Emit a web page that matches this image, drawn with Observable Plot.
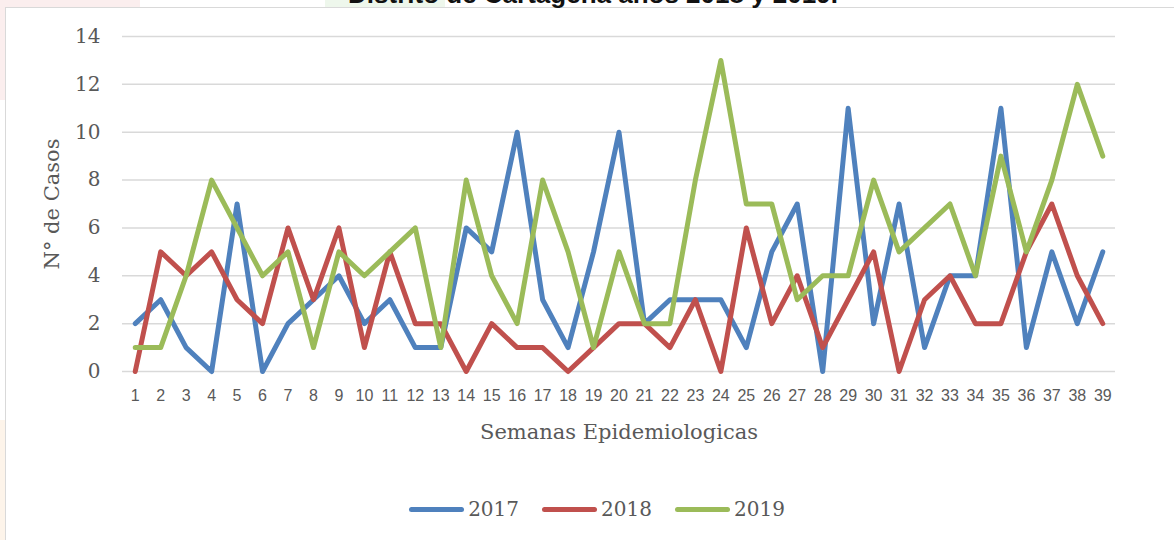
<!DOCTYPE html>
<html>
<head>
<meta charset="utf-8">
<script src="https://cdn.jsdelivr.net/npm/d3@7"></script>
<script src="https://cdn.jsdelivr.net/npm/@observablehq/plot@0.6"></script>
<style>
  html, body { margin: 0; padding: 0; background: #fff; }
  #wrap { position: relative; width: 1174px; height: 540px; overflow: hidden; background: #fff; }
  .bg { position: absolute; }
  #box { position: absolute; left: 5px; top: 7px; width: 1175px; height: 540px; border: 1.5px solid #d9d9d9; background: #fff; box-sizing: border-box; }
  #title { position: absolute; left: 0; width: 1174px; top: -21px; text-align: center; font: bold 26px "Liberation Sans", Arial, sans-serif; line-height: 30px; color: #111; padding-left: 12px; box-sizing: border-box; white-space: nowrap; }
  #chart { position: absolute; left: 0; top: 0; }
  #legend { position: absolute; left: 0; top: 497px; width: 1174px; display: flex; justify-content: center; gap: 23px; font: 20px "DejaVu Serif", "Liberation Serif", serif; color: #595959; padding-left: 20px; box-sizing: border-box; }
  .item { display: flex; align-items: center; gap: 4px; }
  .swatch { width: 55px; height: 5px; border-radius: 3px; }
</style>
</head>
<body>
<div id="wrap">
  <div class="bg" style="left:0;top:0;width:140px;height:100px;background:#fbeeee"></div>
  <div class="bg" style="left:325px;top:0;width:120px;height:10px;background:#eef7ec"></div>
  <div class="bg" style="left:0;top:420px;width:10px;height:120px;background:#fdf4ea"></div>
  <div id="box"></div>
  <div id="title">Distrito de Cartagena años 2018 y 2019.</div>
  <div id="chart"></div>
  <div id="legend"></div>
</div>
<script>
const weeks = d3.range(1, 40);
const series = ["2017", "2018", "2019"];
const colors = ["#4f81bd", "#c0504d", "#9bbb59"];
const cases2017 = [2,3,1,0,7,0,2,3,4,2,3,1,1,6,5,10,3,1,5,10,2,3,3,3,1,5,7,0,11,2,7,1,4,4,11,1,5,2,5];
const cases2018 = [0,5,4,5,3,2,6,3,6,1,5,2,2,0,2,1,1,0,1,2,2,1,3,0,6,2,4,1,3,5,0,3,4,2,2,5,7,4,2];
const cases2019 = [1,1,4,8,6,4,5,1,5,4,5,6,1,8,4,2,8,5,1,5,2,2,8,13,7,7,3,4,4,8,5,6,7,4,9,5,8,12,9];
const yTicks = [0, 2, 4, 6, 8, 10, 12, 14];

const valuesBySeries = [cases2017, cases2018, cases2019];
const data = [];
series.forEach((s, i) => {
  weeks.forEach((w, j) => data.push({ year: s, week: w, value: valuesBySeries[i][j] }));
});

const serif = "DejaVu Serif, Liberation Serif, serif";
const plot = Plot.plot({
  width: 1174,
  height: 460,
  marginTop: 36,
  marginBottom: 89,
  marginLeft: 122,
  marginRight: 59,
  style: { background: "transparent", overflow: "visible" },
  x: { type: "point", domain: weeks, padding: 0.5, round: false },
  y: { domain: [0, 14], ticks: yTicks },
  color: { domain: series, range: colors },
  marks: [
    Plot.gridY(yTicks, { stroke: "#d9d9d9", strokeOpacity: 1, strokeWidth: 1.5 }),
    Plot.axisY(yTicks, {
      tickSize: 0, tickPadding: 22, label: null,
      fontFamily: serif, fontSize: 20, fill: "#595959"
    }),
    Plot.axisX({
      tickSize: 0, tickPadding: 18, label: null,
      fontFamily: "Liberation Sans, Arial, sans-serif", fontSize: 16, fill: "#595959"
    }),
    Plot.text(["Semanas Epidemiologicas"], {
      frameAnchor: "bottom", dy: 67, textAnchor: "middle",
      fontFamily: serif, fontSize: 21, fill: "#595959"
    }),
    Plot.text(["N° de Casos"], {
      frameAnchor: "left", dx: -70, rotate: -90, textAnchor: "middle",
      fontFamily: serif, fontSize: 21, fill: "#595959"
    }),
    Plot.line(data, {
      x: "week", y: "value", z: "year", stroke: "year",
      strokeWidth: 5, strokeLinejoin: "round", strokeLinecap: "round"
    })
  ]
});
document.getElementById("chart").appendChild(plot);

const legend = document.getElementById("legend");
series.forEach((s, i) => {
  const item = document.createElement("div");
  item.className = "item";
  const sw = document.createElement("div");
  sw.className = "swatch";
  sw.style.background = colors[i];
  const t = document.createElement("span");
  t.textContent = s;
  item.appendChild(sw);
  item.appendChild(t);
  legend.appendChild(item);
});
</script>
</body>
</html>
